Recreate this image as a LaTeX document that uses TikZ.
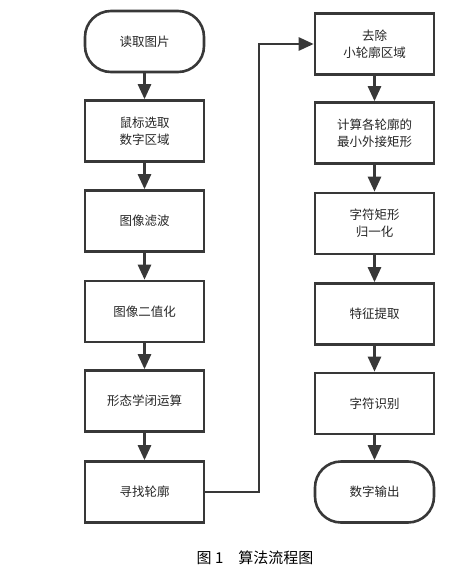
\documentclass[tikz,border=0pt]{standalone}
\usepackage{fontspec}
\setmainfont{Noto Sans CJK SC}
\usetikzlibrary{arrows.meta}
\definecolor{linegray}{HTML}{383838}
\tikzset{
  stepbox/.style={draw=linegray, line width=2.6pt, minimum width=119pt, minimum height=61pt,
    align=center, inner sep=2pt, font=\fontsize{12.5}{17}\selectfont, text=black!85},
  endbox/.style={stepbox, rounded corners=26pt},
  flow/.style={draw=linegray, line width=2.6pt, -{Triangle[width=13pt,length=15pt]}}
}
\begin{document}
\begin{tikzpicture}[x=1pt,y=-1pt]
\useasboundingbox (0,0) rectangle (475,573);

% left column
\node[endbox] (read) at (144.5,41.5) {读取图片};
\node[stepbox] (select) at (144.5,131) {鼠标选取\\数字区域};
\node[stepbox] (filter) at (144.5,221) {图像滤波};
\node[stepbox] (binary) at (144.5,311.5) {图像二值化};
\node[stepbox] (close) at (144.5,401) {形态学闭运算};
\node[stepbox] (contour) at (144.5,492) {寻找轮廓};

% right column
\node[stepbox] (remove) at (374.5,44) {去除\\小轮廓区域};
\node[stepbox] (rect) at (374.5,133) {计算各轮廓的\\最小外接矩形};
\node[stepbox] (norm) at (374.5,223.5) {字符矩形\\归一化};
\node[stepbox] (feature) at (374.5,314) {特征提取};
\node[stepbox] (recog) at (374.5,403.5) {字符识别};
\node[endbox] (output) at (374.5,492) {数字输出};

\draw[flow] (read) -- (select);
\draw[flow] (select) -- (filter);
\draw[flow] (filter) -- (binary);
\draw[flow] (binary) -- (close);
\draw[flow] (close) -- (contour);

\coordinate (turn) at (259,492);
\draw[flow] (contour.east) -- (turn) |- (remove.west);

\draw[flow] (remove) -- (rect);
\draw[flow] (rect) -- (norm);
\draw[flow] (norm) -- (feature);
\draw[flow] (feature) -- (recog);
\draw[flow] (recog) -- (output);

\node[font=\fontsize{15}{16}\selectfont] (caption) at (255,558) {图 1\quad 算法流程图};
\end{tikzpicture}
\end{document}
